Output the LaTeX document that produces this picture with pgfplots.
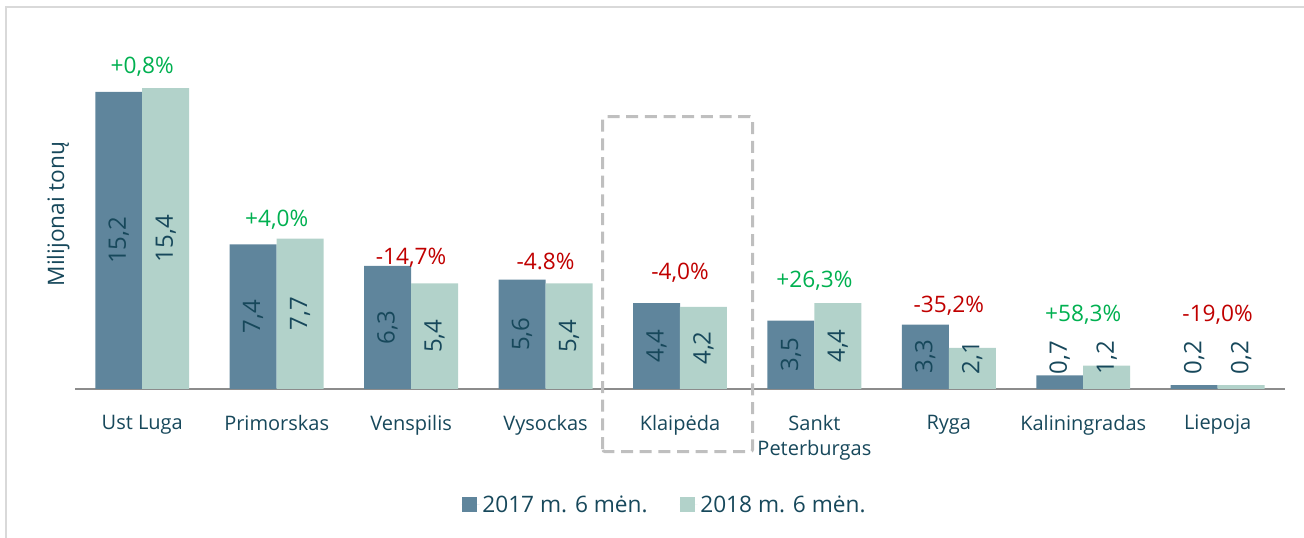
\documentclass[border=0pt]{standalone}
\usepackage{pgfplots}
\pgfplotsset{compat=1.18}
\usepackage{fontspec}
\setmainfont{Open Sans}
\definecolor{darkbar}{HTML}{5F859C}
\definecolor{lightbar}{HTML}{B2D2CA}
\definecolor{textcol}{HTML}{17485B}
\definecolor{posgreen}{HTML}{00B050}
\definecolor{negred}{HTML}{C00000}
\definecolor{axisgray}{HTML}{8C8C8C}
\definecolor{framegray}{HTML}{D9D9D9}
\definecolor{boxgray}{HTML}{BFBFBF}
\begin{document}
\begin{tikzpicture}
\useasboundingbox (0,0) rectangle (978pt,403.5pt);
\draw[framegray, line width=1.5pt] (4.5pt,0) -- (4.5pt,398.25pt) -- (978pt,398.25pt);
\begin{axis}[
  at={(56.3pt,111.75pt)}, anchor=south west,
  scale only axis, width=907.35pt, height=256.5pt,
  xmin=-0.5, xmax=8.5, ymin=0, ymax=17.5,
  clip=false,
  axis x line*=bottom, axis y line=none,
  x axis line style={draw=axisgray, line width=1.5pt},
  ytick=\empty,
  xtick={0,...,8},
  xticklabels={Ust Luga, Primorskas, Venspilis, Vysockas, Klaipėda, {Sankt\\Peterburgas}, Ryga, Kaliningradas, Liepoja},
  major tick length=0pt,
  xticklabel style={font=\fontsize{15}{19}\selectfont, text=textcol, align=center, anchor=north, yshift=-16pt},
  legend columns=2,
  legend style={at={(0.4876,-0.339)}, anchor=center, draw=none, fill=none,
    font=\fontsize{17}{20}\selectfont, text=textcol,
    /tikz/every even column/.append style={column sep=22pt}},
]
\addplot[ybar, bar width=35.25pt, bar shift=-17.6pt, fill=darkbar, draw=none,
  legend image code/.code={\fill[darkbar] (0pt,-5.2pt) rectangle (11.25pt,6pt); \path (0pt,0pt) -- (13.5pt,0pt);}]
  coordinates {(0,15.2) (1,7.4) (2,6.3) (3,5.6) (4,4.4) (5,3.5) (6,3.3) (7,0.7) (8,0.2)};
\addlegendentry{2017 m. 6 mėn.}
\addplot[ybar, bar width=35.25pt, bar shift=17.6pt, fill=lightbar, draw=none,
  legend image code/.code={\fill[lightbar] (0pt,-5.2pt) rectangle (11.25pt,6pt); \path (0pt,0pt) -- (13.5pt,0pt);}]
  coordinates {(0,15.4) (1,7.7) (2,5.4) (3,5.4) (4,4.2) (5,4.4) (6,2.1) (7,1.2) (8,0.2)};
\addlegendentry{2018 m. 6 mėn.}
% values inside bars
\addplot[draw=none, mark=none, nodes near coords, point meta=explicit symbolic,
  nodes near coords align={anchor=center},
  every node near coord/.append style={rotate=90, anchor=center, font=\fontsize{18}{20}\selectfont, text=textcol}]
  table[meta=lab] {
x y lab
-0.175 7.6 15,2
0.825 3.7 7,4
1.825 3.15 6,3
2.825 2.8 5,6
3.825 2.2 4,4
4.825 1.75 3,5
5.825 1.65 3,3
6.825 1.61 0,7
7.825 1.61 0,2
};
\addplot[draw=none, mark=none, nodes near coords, point meta=explicit symbolic,
  nodes near coords align={anchor=center},
  every node near coord/.append style={rotate=90, anchor=center, font=\fontsize{18}{20}\selectfont, text=textcol}]
  table[meta=lab] {
x y lab
0.175 7.7 15,4
1.175 3.85 7,7
2.175 2.7 5,4
3.175 2.7 5,4
4.175 2.1 4,2
5.175 2.2 4,4
6.175 1.61 2,1
7.175 1.61 1,2
8.175 1.61 0,2
};
% change labels
\addplot[draw=none, mark=none, nodes near coords, point meta=explicit symbolic,
  nodes near coords align={anchor=base},
  every node near coord/.append style={anchor=base, font=\fontsize{17}{20}\selectfont, text=posgreen}]
  table[meta=lab] {
x y lab
0 16.16 +0,8\%
1 8.29 +4,0\%
5 5.17 +26,3\%
7 3.43 +58,3\%
};
\addplot[draw=none, mark=none, nodes near coords, point meta=explicit symbolic,
  nodes near coords align={anchor=base},
  every node near coord/.append style={anchor=base, font=\fontsize{17}{20}\selectfont, text=negred}]
  table[meta=lab] {
x y lab
2 6.35 -14,7\%
3 6.09 -4.8\%
4 5.58 -4,0\%
6 3.89 -35,2\%
8 3.43 -19,0\%
};
\node[rotate=90, font=\fontsize{17}{20}\selectfont, text=textcol] at (rel axis cs:-0.014,0.5117) {Milijonai tonų};
\end{axis}
\draw[boxgray, line width=2.25pt, dash pattern=on 9pt off 5pt, rounded corners=2pt] (452pt,64.7pt) rectangle (564.5pt,316pt);
\end{tikzpicture}
\end{document}
